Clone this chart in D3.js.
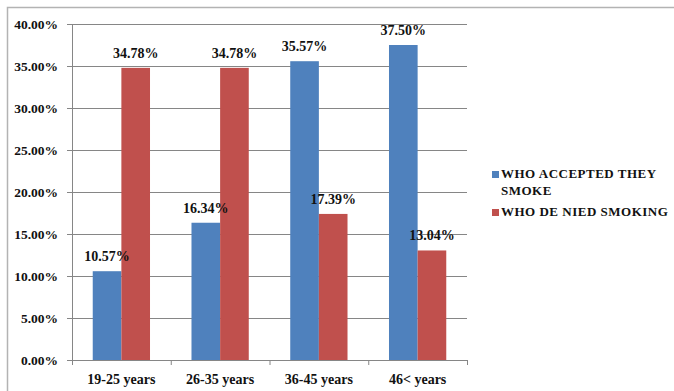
<!DOCTYPE html>
<html>
<head>
<meta charset="utf-8">
<script src="https://cdn.jsdelivr.net/npm/d3@7"></script>
<style>
  body { margin: 0; background: #fff; }
  svg { display: block; }
</style>
</head>
<body>
<div id="chart"></div>
<script>
const categories = ['19-25 years', '26-35 years', '36-45 years', '46< years'];
const accepted = [10.57, 16.34, 35.57, 37.5];
const denied = [34.78, 34.78, 17.39, 13.04];
const seriesNames = ['WHO ACCEPTED THEY SMOKE', 'WHO DE NIED SMOKING'];
const yTicks = [0, 5, 10, 15, 20, 25, 30, 35, 40];
const colors = ['#4f81bd', '#c0504d'];

const width = 674;
const height = 391;
const serif = '"Liberation Serif", "DejaVu Serif", serif';

const svg = d3
  .select('#chart')
  .append('svg')
  .attr('width', width)
  .attr('height', height)
  .style('font-family', serif);

// outer chart frame
svg.append('path')
  .attr('d', `M7.5,${height} L7.5,7.5 L${width},7.5`)
  .attr('fill', 'none')
  .attr('stroke', '#b3b3b3')
  .attr('stroke-width', 1.5);

const x = d3.scaleBand()
  .domain(categories)
  .range([72, 467])
  .paddingInner(0.42)
  .paddingOuter(0.21);

const x1 = d3.scaleBand()
  .domain([0, 1])
  .range([0, x.bandwidth()]);

const y = d3.scaleLinear().domain([0, 40]).range([360, 24]);

// y axis
const yAxis = svg.append('g')
  .attr('transform', 'translate(72,0)')
  .call(d3.axisLeft(y).tickValues(yTicks).tickSize(5).tickPadding(9)
    .tickFormat((d) => d.toFixed(2) + '%'));
yAxis.attr('font-family', null);
yAxis.select('.domain').attr('stroke', '#868686');
yAxis.selectAll('.tick line').attr('stroke', '#868686');
yAxis.selectAll('.tick text')
  .style('font-family', serif)
  .style('font-size', '13.5px')
  .style('font-weight', 'bold')
  .attr('fill', '#111');

// gridlines
svg.append('g')
  .selectAll('line')
  .data(yTicks.filter((d) => d > 0))
  .join('line')
  .attr('x1', 72)
  .attr('x2', 467)
  .attr('y1', (d) => y(d) + 0.5)
  .attr('y2', (d) => y(d) + 0.5)
  .attr('stroke', '#868686')
  .attr('stroke-width', 1);

// bars
const rows = categories.map((c, i) => ({ cat: c, values: [accepted[i], denied[i]] }));

const groups = svg.append('g')
  .selectAll('g')
  .data(rows)
  .join('g')
  .attr('transform', (d) => `translate(${x(d.cat)},0)`);

groups.selectAll('rect')
  .data((d) => d.values.map((v, k) => ({ v, k })))
  .join('rect')
  .attr('x', (d) => x1(d.k))
  .attr('y', (d) => y(d.v))
  .attr('width', x1.bandwidth())
  .attr('height', (d) => y(0) - y(d.v))
  .attr('fill', (d) => colors[d.k]);

groups.selectAll('text')
  .data((d) => d.values.map((v, k) => ({ v, k })))
  .join('text')
  .attr('x', (d) => x1(d.k) + x1.bandwidth() / 2)
  .attr('y', (d) => y(d.v) - 10)
  .attr('text-anchor', 'middle')
  .style('font-family', serif)
  .style('font-size', '14px')
  .style('font-weight', 'bold')
  .attr('fill', '#111')
  .text((d) => d.v.toFixed(2) + '%');

// x axis
const xAxis = svg.append('g')
  .attr('transform', 'translate(0,360)')
  .call(d3.axisBottom(x).tickSize(0).tickPadding(14));
xAxis.attr('font-family', null);
xAxis.select('.domain').attr('stroke', '#868686');
xAxis.selectAll('.tick text')
  .style('font-family', serif)
  .style('font-size', '14px')
  .style('font-weight', 'bold')
  .attr('fill', '#111');

const step = x.step();
svg.append('g')
  .selectAll('line')
  .data(d3.range(categories.length + 1))
  .join('line')
  .attr('x1', (i) => 72 + i * step + 0.5)
  .attr('x2', (i) => 72 + i * step + 0.5)
  .attr('y1', 360)
  .attr('y2', 365)
  .attr('stroke', '#868686');

// legend
const legend = svg.append('g').attr('transform', 'translate(492,0)');
const legendRows = [
  { lines: ['WHO ACCEPTED THEY', 'SMOKE'], y: 178 },
  { lines: ['WHO DE NIED SMOKING'], y: 216 },
];
legendRows.forEach((r, k) => {
  legend.append('rect')
    .attr('x', 0)
    .attr('y', r.y - 7)
    .attr('width', 7)
    .attr('height', 7)
    .attr('fill', colors[k]);
  const t = legend.append('text')
    .attr('x', 9)
    .attr('y', r.y)
    .style('font-family', serif)
    .style('font-size', '13px')
    .style('font-weight', 'bold')
    .style('letter-spacing', '0.5px')
    .attr('fill', '#111');
  r.lines.forEach((ln, j) => {
    t.append('tspan').attr('x', 9).attr('dy', j === 0 ? 0 : 16.5).text(ln);
  });
});
</script>
</body>
</html>
